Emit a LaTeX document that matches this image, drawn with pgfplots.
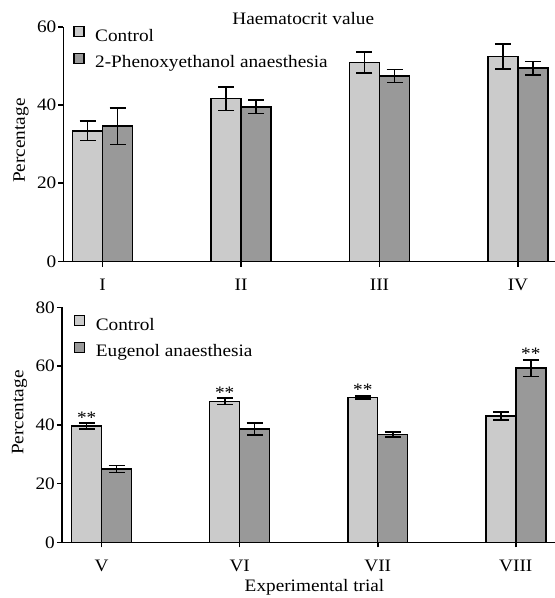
\documentclass[border=0pt]{standalone}
\usepackage{pgfplots}
\pgfplotsset{compat=1.18}
\usepackage{fontspec}
\setmainfont{Liberation Serif}[FakeStretch=1.1]
\definecolor{ctrl}{HTML}{CBCBCB}
\definecolor{trt}{HTML}{999999}
\newcommand{\fs}{\fontsize{17.5}{20}\selectfont}
\pgfplotsset{
  myax/.style={
    scale only axis,
    axis lines*=left,
    axis line style={line width=1.6pt},
    ymin=0,
    xtick={0,1,2,3},
    tick align=outside,
    major tick length=5pt,
    tick style={line width=1.6pt, black},
    /pgf/number format/assume math mode=true,
    ticklabel style={font=\fs},
    label style={font=\fs},
    yticklabel style={inner sep=2pt},
    xticklabel style={anchor=base, yshift=-24pt},
    ybar,
    bar width=0.217,
    legend cell align=left,
    legend style={draw=none, fill=none, font=\fs, inner sep=0pt,
      row sep=7.5pt, anchor=north west,
      nodes={inner sep=0pt, text height=11.5pt, text depth=4pt},
      /tikz/every odd column/.append style={column sep=10.5pt}},
    legend image code/.code={\draw[##1, line width=1.2pt] (0pt,0.8pt) rectangle (10pt,10.8pt);},
    every axis plot/.append style={draw=black, line width=1.5pt,
      error bars/y dir=both, error bars/y explicit,
      error bars/error bar style={line width=1.6pt, black, solid},
      error bars/error mark options={rotate=90, mark size=8pt, line width=1.6pt, black}},
  },
}
\begin{document}
\begin{tikzpicture}
\useasboundingbox (0,0) rectangle (555pt,-598pt);
% ---------------- top: Haematocrit value, 2-Phenoxyethanol
\begin{axis}[myax,
  at={(63.5pt,-261.5pt)}, anchor=south west,
  width=491.5pt, height=234.8pt,
  xmin=-0.283, xmax=3.268,
  ymax=60, ytick={0,20,40,60},
  xticklabels={I,II,III,IV},
  ylabel={Percentage},
  ylabel style={at={([xshift=-38.5pt]axis description cs:0,0.515)}, anchor=base},
  title={Haematocrit value},
  title style={font=\fs, at={([xshift=-6pt,yshift=-4pt]axis description cs:0.5,1)}, anchor=base},
  legend style={at={([xshift=9.8pt,yshift=1pt]axis description cs:0,1)}},
]
\addplot[fill=ctrl, bar shift=-0.1085] coordinates {
  (0,33.4) +- (0,2.5)
  (1,41.6) +- (0,3.0)
  (2,50.8) +- (0,2.7)
  (3,52.4) +- (0,3.2)
};
\addplot[fill=trt, bar shift=0.1085] coordinates {
  (0,34.6) +- (0,4.7)
  (1,39.5) +- (0,1.7)
  (2,47.4) +- (0,1.7)
  (3,49.4) +- (0,1.7)
};
\legend{Control, 2-Phenoxyethanol anaesthesia}
\end{axis}
% ---------------- bottom: Eugenol
\begin{axis}[myax,
  at={(62pt,-542.3pt)}, anchor=south west,
  width=493pt, height=235pt,
  xmin=-0.287, xmax=3.284,
  ymax=80, ytick={0,20,40,60,80},
  xticklabels={V,VI,VII,VIII},
  ylabel={Percentage},
  ylabel style={at={([xshift=-38.5pt]axis description cs:0,0.552)}, anchor=base},
  xlabel={Experimental trial},
  xlabel style={at={([xshift=6pt,yshift=-48.7pt]axis description cs:0.5,0)}, anchor=base},
  legend style={at={([xshift=12pt,yshift=-7.5pt]axis description cs:0,1)}},
]
\addplot[fill=ctrl, bar shift=-0.1085] coordinates {
  (0,39.6) +- (0,1.0)
  (1,48.0) +- (0,1.1)
  (2,49.3) +- (0,0.6)
  (3,43.0) +- (0,1.4)
};
\addplot[fill=trt, bar shift=0.1085] coordinates {
  (0,25.0) +- (0,1.2)
  (1,38.6) +- (0,2.0)
  (2,36.7) +- (0,0.9)
  (3,59.3) +- (0,2.8)
};
\legend{Control, Eugenol anaesthesia}
\node[anchor=base, font=\fs] at (axis cs:-0.1085,40.6) {**};
\node[anchor=base, font=\fs] at (axis cs:0.8915,49.1) {**};
\node[anchor=base, font=\fs] at (axis cs:1.8915,49.9) {**};
\node[anchor=base, font=\fs] at (axis cs:3.1085,62.1) {**};
\end{axis}
\end{tikzpicture}
\end{document}
